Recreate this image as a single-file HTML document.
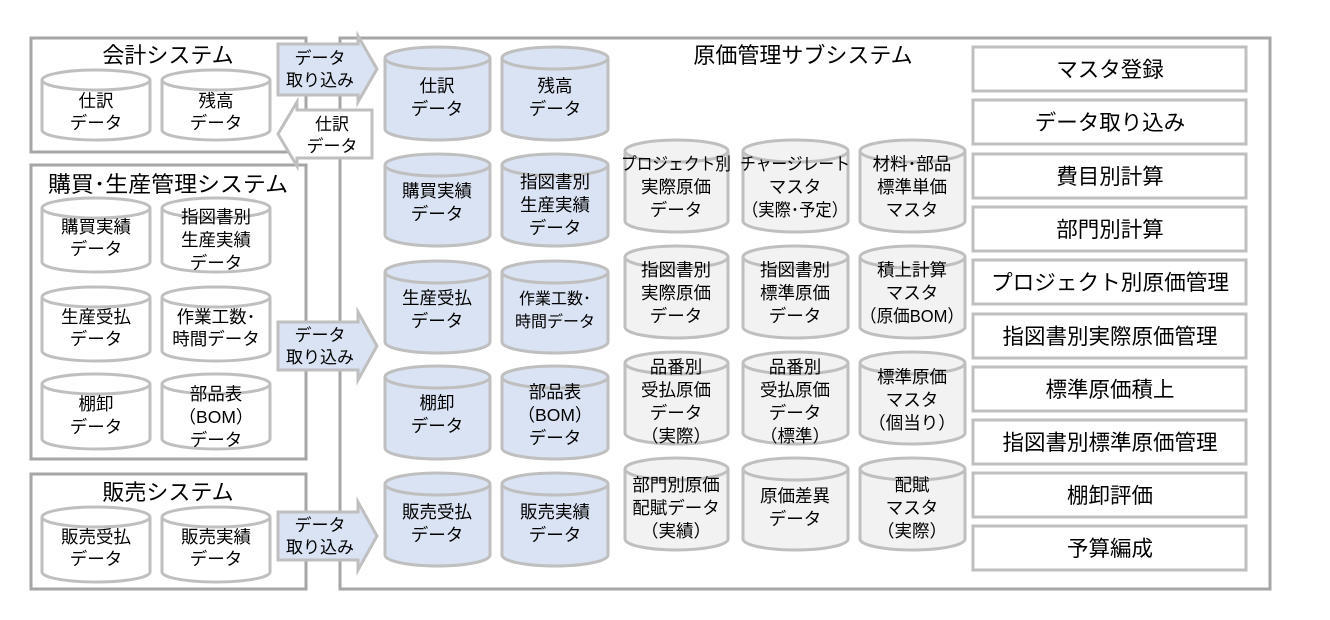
<!DOCTYPE html>
<html><head><meta charset="utf-8"><style>
body{margin:0;background:#fff}
svg{display:block}
text{font-family:"Liberation Sans","Noto Sans CJK JP",sans-serif;fill:#000}
.c{font-size:17.5px;text-anchor:middle}
.a{font-size:17px;text-anchor:middle}
.t{font-size:21.5px;text-anchor:middle}
.b{fill:#dae3f3;stroke:#bfbfbf;stroke-width:3}
.g{fill:#f2f2f2;stroke:#bfbfbf;stroke-width:3}
.w{fill:#fff;stroke:#bfbfbf;stroke-width:3}
.top{fill:none;stroke:#bfbfbf;stroke-width:3}
.box{fill:#fff;stroke:#a6a6a6;stroke-width:3}
.btn{fill:#fff;stroke:#bfbfbf;stroke-width:3}
</style></head><body>
<svg width="1330" height="620" viewBox="0 0 1330 620">
<rect class="box" x="31" y="38" width="275" height="114"/>
<rect class="box" x="31" y="165" width="275" height="294"/>
<rect class="box" x="31" y="474" width="275" height="115"/>
<rect class="box" x="340" y="38" width="930" height="551"/>
<text class="t" x="168" y="63" style="font-size:22px">会計システム</text>
<text x="48" y="192" style="font-size:22px" textLength="240" lengthAdjust="spacingAndGlyphs">購買･生産管理システム</text>
<text class="t" x="168" y="500" style="font-size:22px">販売システム</text>
<text class="t" x="803" y="63" style="font-size:22px">原価管理サブシステム</text>

<path d="M278 44 H358 V36 L377 69 L358 102 V95 H278 Z" fill="#dae3f3" stroke="#bfbfbf" stroke-width="3"/>
<text class="a" x="320" y="64">データ</text><text class="a" x="320" y="86">取り込み</text>
<path d="M372 110 H297 V102 L278 134 L297 166 V158 H372 Z" fill="#fff" stroke="#bfbfbf" stroke-width="3"/>
<text class="a" x="332" y="130">仕訳</text><text class="a" x="332" y="152">データ</text>
<path d="M278 322 H358 V312 L377 346 L358 380 V370 H278 Z" fill="#dae3f3" stroke="#bfbfbf" stroke-width="3"/>
<text class="a" x="320" y="341">データ</text><text class="a" x="320" y="363">取り込み</text>
<path d="M278 512 H358 V502 L377 536 L358 570 V560 H278 Z" fill="#dae3f3" stroke="#bfbfbf" stroke-width="3"/>
<text class="a" x="320" y="531">データ</text><text class="a" x="320" y="553">取り込み</text>

<path class="w" d="M42 80 A54 10 0 0 1 150 80 V130 A54 10 0 0 1 42 130 Z"/><path class="top" d="M42 80 A54 10 0 0 0 150 80"/>
<path class="w" d="M162 80 A54 10 0 0 1 270 80 V130 A54 10 0 0 1 162 130 Z"/><path class="top" d="M162 80 A54 10 0 0 0 270 80"/>
<text class="c" x="96" y="107">仕訳</text><text class="c" x="96" y="129">データ</text>
<text class="c" x="216" y="107">残高</text><text class="c" x="216" y="129">データ</text>

<path class="w" d="M42 208 A54 10 0 0 1 150 208 V262 A54 10 0 0 1 42 262 Z"/><path class="top" d="M42 208 A54 10 0 0 0 150 208"/>
<path class="w" d="M162 208 A54 10 0 0 1 270 208 V262 A54 10 0 0 1 162 262 Z"/><path class="top" d="M162 208 A54 10 0 0 0 270 208"/>
<text class="c" x="96" y="233">購買実績</text><text class="c" x="96" y="255">データ</text>
<text class="c" x="216" y="223">指図書別</text><text class="c" x="216" y="246">生産実績</text><text class="c" x="216" y="269">データ</text>

<path class="w" d="M42 297 A54 10 0 0 1 150 297 V351 A54 10 0 0 1 42 351 Z"/><path class="top" d="M42 297 A54 10 0 0 0 150 297"/>
<path class="w" d="M162 297 A54 10 0 0 1 270 297 V351 A54 10 0 0 1 162 351 Z"/><path class="top" d="M162 297 A54 10 0 0 0 270 297"/>
<text class="c" x="96" y="323">生産受払</text><text class="c" x="96" y="345">データ</text>
<text class="c" x="216" y="323">作業工数･</text><text class="c" x="216" y="345">時間データ</text>

<path class="w" d="M42 384 A54 10 0 0 1 150 384 V439 A54 10 0 0 1 42 439 Z"/><path class="top" d="M42 384 A54 10 0 0 0 150 384"/>
<path class="w" d="M162 384 A54 10 0 0 1 270 384 V439 A54 10 0 0 1 162 439 Z"/><path class="top" d="M162 384 A54 10 0 0 0 270 384"/>
<text class="c" x="96" y="410">棚卸</text><text class="c" x="96" y="433">データ</text>
<text class="c" x="216" y="400">部品表</text><text class="c" x="216" y="423">（BOM）</text><text class="c" x="216" y="446">データ</text>

<path class="w" d="M42 517 A54 10 0 0 1 150 517 V572 A54 10 0 0 1 42 572 Z"/><path class="top" d="M42 517 A54 10 0 0 0 150 517"/>
<path class="w" d="M162 517 A54 10 0 0 1 270 517 V572 A54 10 0 0 1 162 572 Z"/><path class="top" d="M162 517 A54 10 0 0 0 270 517"/>
<text class="c" x="96" y="543">販売受払</text><text class="c" x="96" y="565">データ</text>
<text class="c" x="216" y="543">販売実績</text><text class="c" x="216" y="565">データ</text>

<path class="b" d="M385 58 A52.5 11 0 0 1 490 58 V129 A52.5 11 0 0 1 385 129 Z"/><path class="top" d="M385 58 A52.5 11 0 0 0 490 58"/>
<path class="b" d="M502 58 A53 11 0 0 1 608 58 V129 A53 11 0 0 1 502 129 Z"/><path class="top" d="M502 58 A53 11 0 0 0 608 58"/>
<text class="c" x="437" y="92">仕訳</text><text class="c" x="437" y="115">データ</text>
<text class="c" x="555" y="92">残高</text><text class="c" x="555" y="115">データ</text>

<path class="b" d="M385 165 A52.5 11 0 0 1 490 165 V235 A52.5 11 0 0 1 385 235 Z"/><path class="top" d="M385 165 A52.5 11 0 0 0 490 165"/>
<path class="b" d="M502 165 A53 11 0 0 1 608 165 V235 A53 11 0 0 1 502 235 Z"/><path class="top" d="M502 165 A53 11 0 0 0 608 165"/>
<text class="c" x="437" y="197">購買実績</text><text class="c" x="437" y="220">データ</text>
<text class="c" x="555" y="188">指図書別</text><text class="c" x="555" y="211">生産実績</text><text class="c" x="555" y="234">データ</text>

<path class="b" d="M385 272 A52.5 11 0 0 1 490 272 V342 A52.5 11 0 0 1 385 342 Z"/><path class="top" d="M385 272 A52.5 11 0 0 0 490 272"/>
<path class="b" d="M502 272 A53 11 0 0 1 608 272 V342 A53 11 0 0 1 502 342 Z"/><path class="top" d="M502 272 A53 11 0 0 0 608 272"/>
<text class="c" x="437" y="304">生産受払</text><text class="c" x="437" y="327">データ</text>
<text class="c" x="555" y="304" style="font-size:16px">作業工数･</text><text class="c" x="555" y="327" style="font-size:16px">時間データ</text>

<path class="b" d="M385 377 A52.5 11 0 0 1 490 377 V448 A52.5 11 0 0 1 385 448 Z"/><path class="top" d="M385 377 A52.5 11 0 0 0 490 377"/>
<path class="b" d="M502 377 A53 11 0 0 1 608 377 V448 A53 11 0 0 1 502 448 Z"/><path class="top" d="M502 377 A53 11 0 0 0 608 377"/>
<text class="c" x="437" y="409">棚卸</text><text class="c" x="437" y="432">データ</text>
<text class="c" x="555" y="398">部品表</text><text class="c" x="555" y="421">（BOM）</text><text class="c" x="555" y="444">データ</text>

<path class="b" d="M385 484 A52.5 11 0 0 1 490 484 V555 A52.5 11 0 0 1 385 555 Z"/><path class="top" d="M385 484 A52.5 11 0 0 0 490 484"/>
<path class="b" d="M502 484 A53 11 0 0 1 608 484 V555 A53 11 0 0 1 502 555 Z"/><path class="top" d="M502 484 A53 11 0 0 0 608 484"/>
<text class="c" x="437" y="518">販売受払</text><text class="c" x="437" y="541">データ</text>
<text class="c" x="555" y="518">販売実績</text><text class="c" x="555" y="541">データ</text>

<g>
<path class="g" d="M625 151 A51.5 11 0 0 1 728 151 V221 A51.5 11 0 0 1 625 221 Z"/><path class="top" d="M625 151 A51.5 11 0 0 0 728 151"/>
<path class="g" d="M743 151 A52.5 11 0 0 1 848 151 V221 A52.5 11 0 0 1 743 221 Z"/><path class="top" d="M743 151 A52.5 11 0 0 0 848 151"/>
<path class="g" d="M860 151 A52.5 11 0 0 1 965 151 V221 A52.5 11 0 0 1 860 221 Z"/><path class="top" d="M860 151 A52.5 11 0 0 0 965 151"/>
<text class="c" x="676" y="170" textLength="110" lengthAdjust="spacingAndGlyphs">プロジェクト別</text><text class="c" x="676" y="193">実際原価</text><text class="c" x="676" y="216">データ</text>
<text class="c" x="795" y="170" textLength="110" lengthAdjust="spacingAndGlyphs">チャージレート</text><text class="c" x="795" y="193">マスタ</text><text class="c" x="795" y="216" textLength="106" lengthAdjust="spacingAndGlyphs">（実際･予定）</text>
<text class="c" x="912" y="170">材料･部品</text><text class="c" x="912" y="193">標準単価</text><text class="c" x="912" y="216">マスタ</text>

<path class="g" d="M625 257 A51.5 11 0 0 1 728 257 V327 A51.5 11 0 0 1 625 327 Z"/><path class="top" d="M625 257 A51.5 11 0 0 0 728 257"/>
<path class="g" d="M743 257 A52.5 11 0 0 1 848 257 V327 A52.5 11 0 0 1 743 327 Z"/><path class="top" d="M743 257 A52.5 11 0 0 0 848 257"/>
<path class="g" d="M860 257 A52.5 11 0 0 1 965 257 V327 A52.5 11 0 0 1 860 327 Z"/><path class="top" d="M860 257 A52.5 11 0 0 0 965 257"/>
<text class="c" x="676" y="276">指図書別</text><text class="c" x="676" y="299">実際原価</text><text class="c" x="676" y="322">データ</text>
<text class="c" x="795" y="276">指図書別</text><text class="c" x="795" y="299">標準原価</text><text class="c" x="795" y="322">データ</text>
<text class="c" x="912" y="276">積上計算</text><text class="c" x="912" y="299">マスタ</text><text class="c" x="912" y="322" textLength="104" lengthAdjust="spacingAndGlyphs">（原価BOM）</text>

<path class="g" d="M625 363 A51.5 11 0 0 1 728 363 V433 A51.5 11 0 0 1 625 433 Z"/><path class="top" d="M625 363 A51.5 11 0 0 0 728 363"/>
<path class="g" d="M743 363 A52.5 11 0 0 1 848 363 V433 A52.5 11 0 0 1 743 433 Z"/><path class="top" d="M743 363 A52.5 11 0 0 0 848 363"/>
<path class="g" d="M860 363 A52.5 11 0 0 1 965 363 V433 A52.5 11 0 0 1 860 433 Z"/><path class="top" d="M860 363 A52.5 11 0 0 0 965 363"/>
<text class="c" x="676" y="373">品番別</text><text class="c" x="676" y="396">受払原価</text><text class="c" x="676" y="419">データ</text><text class="c" x="676" y="442">（実際）</text>
<text class="c" x="795" y="373">品番別</text><text class="c" x="795" y="396">受払原価</text><text class="c" x="795" y="419">データ</text><text class="c" x="795" y="442">（標準）</text>
<text class="c" x="912" y="383">標準原価</text><text class="c" x="912" y="406">マスタ</text><text class="c" x="912" y="429">（個当り）</text>

<path class="g" d="M625 469 A51.5 11 0 0 1 728 469 V539 A51.5 11 0 0 1 625 539 Z"/><path class="top" d="M625 469 A51.5 11 0 0 0 728 469"/>
<path class="g" d="M743 469 A52.5 11 0 0 1 848 469 V539 A52.5 11 0 0 1 743 539 Z"/><path class="top" d="M743 469 A52.5 11 0 0 0 848 469"/>
<path class="g" d="M860 469 A52.5 11 0 0 1 965 469 V539 A52.5 11 0 0 1 860 539 Z"/><path class="top" d="M860 469 A52.5 11 0 0 0 965 469"/>
<text class="c" x="676" y="491">部門別原価</text><text class="c" x="676" y="514">配賦データ</text><text class="c" x="676" y="537">（実績）</text>
<text class="c" x="795" y="502">原価差異</text><text class="c" x="795" y="525">データ</text>
<text class="c" x="912" y="491">配賦</text><text class="c" x="912" y="514">マスタ</text><text class="c" x="912" y="537">（実際）</text>
</g>

<rect class="btn" x="973" y="47" width="273" height="44"/><text class="t" x="1110" y="77">マスタ登録</text>
<rect class="btn" x="973" y="100" width="273" height="44"/><text class="t" x="1110" y="130">データ取り込み</text>
<rect class="btn" x="973" y="154" width="273" height="44"/><text class="t" x="1110" y="184">費目別計算</text>
<rect class="btn" x="973" y="207" width="273" height="44"/><text class="t" x="1110" y="237">部門別計算</text>
<rect class="btn" x="973" y="260" width="273" height="44"/><text class="t" x="1110" y="290" textLength="238" lengthAdjust="spacingAndGlyphs">プロジェクト別原価管理</text>
<rect class="btn" x="973" y="314" width="273" height="44"/><text class="t" x="1110" y="344">指図書別実際原価管理</text>
<rect class="btn" x="973" y="367" width="273" height="44"/><text class="t" x="1110" y="397">標準原価積上</text>
<rect class="btn" x="973" y="420" width="273" height="44"/><text class="t" x="1110" y="450">指図書別標準原価管理</text>
<rect class="btn" x="973" y="473" width="273" height="44"/><text class="t" x="1110" y="503">棚卸評価</text>
<rect class="btn" x="973" y="526" width="273" height="44"/><text class="t" x="1110" y="556">予算編成</text>
</svg>
</body></html>
